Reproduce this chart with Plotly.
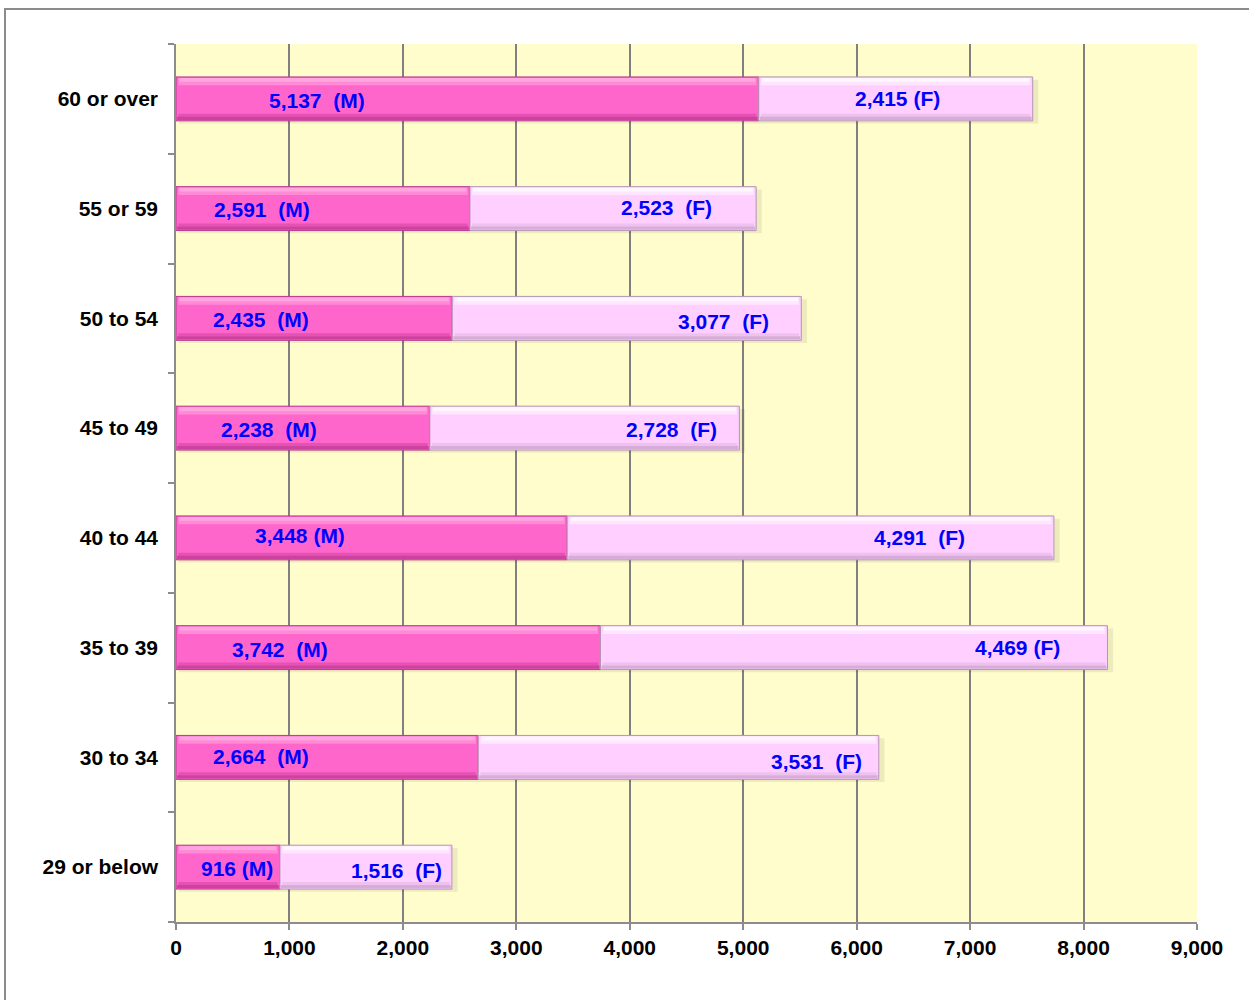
import plotly.graph_objects as go

categories = ["29 or below", "30 to 34", "35 to 39", "40 to 44",
              "45 to 49", "50 to 54", "55 or 59", "60 or over"]
male = [916, 2664, 3742, 3448, 2238, 2435, 2591, 5137]
female = [1516, 3531, 4469, 4291, 2728, 3077, 2523, 2415]
male_labels = ["916 (M)", "2,664  (M)", "3,742  (M)", "3,448 (M)",
               "2,238  (M)", "2,435  (M)", "2,591  (M)", "5,137  (M)"]
female_labels = ["1,516  (F)", "3,531  (F)", "4,469 (F)", "4,291  (F)",
                 "2,728  (F)", "3,077  (F)", "2,523  (F)", "2,415 (F)"]
x_ticks = list(range(0, 9001, 1000))

# label placement (layout only)
male_lab_x = [538, 749, 917, 1093, 820, 749, 758, 1243]
female_lab_x = [1948, 5642, 7422, 6558, 4372, 4822, 4328, 6356]
male_lab_dy = [-1, 1, -2, 2, -1, -1, -1, -2]
female_lab_dy = [-3, -4, 0, 0, -1, -3, 1, 0]

totals = [m + f for m, f in zip(male, female)]

fig = go.Figure()

W = 0.40
OFF = -W / 2
FONT = "Liberation Sans, Arial"
FS = 21

def add_bar(x, base, color, offset, width, line=None):
    fig.add_trace(go.Bar(
        y=categories, x=x, base=base, orientation="h",
        offset=offset, width=width,
        marker=dict(color=color, line=line or dict(width=0)),
        hoverinfo="skip", showlegend=False))

# soft shadow
add_bar([t + 25 for t in totals], [25] * 8, "rgba(0,0,0,0.07)", OFF - 0.025, W)
# main bars
add_bar(male, [0] * 8, "#FF66CC", OFF, W, dict(color="#B83890", width=1))
add_bar(female, male, "#FFCFFF", OFF, W, dict(color="#B496B4", width=1))
# bevel highlights (top) and shading (bottom)
add_bar([m - 40 for m in male], [20] * 8, "#FF8AD6", OFF + W - 0.075, 0.065)
add_bar([m - 60 for m in male], [30] * 8, "#FFA6E0", OFF + W - 0.045, 0.035)
add_bar([f - 40 for f in female], [m + 20 for m in male], "#FFE6FF", OFF + W - 0.075, 0.065)
add_bar([f - 60 for f in female], [m + 30 for m in male], "#FFF6FF", OFF + W - 0.045, 0.035)
add_bar([m - 40 for m in male], [20] * 8, "#E652B4", OFF + 0.035, 0.03)
add_bar([m - 20 for m in male], [10] * 8, "#CC429E", OFF + 0.008, 0.03)
add_bar([f - 40 for f in female], [m + 20 for m in male], "#EEC2EE", OFF + 0.035, 0.03)
add_bar([f - 20 for f in female], [m + 10 for m in male], "#D8ACD8", OFF + 0.008, 0.03)

annotations = []
for i, c in enumerate(categories):
    annotations.append(dict(x=male_lab_x[i], y=c, text=male_labels[i].replace("  ", "&nbsp; "),
                            showarrow=False, yshift=male_lab_dy[i],
                            font=dict(family=FONT, size=FS, color="#0000FF", weight="bold")))
    annotations.append(dict(x=female_lab_x[i], y=c, text=female_labels[i].replace("  ", "&nbsp; "),
                            showarrow=False, yshift=female_lab_dy[i],
                            font=dict(family=FONT, size=FS, color="#0000FF", weight="bold")))

fig.update_layout(
    width=1249, height=1000,
    margin=dict(l=176, r=52, t=44, b=78),
    paper_bgcolor="white", plot_bgcolor="#FFFDCC",
    barmode="overlay", bargap=0.6,
    font=dict(family=FONT, color="black"),
    xaxis=dict(range=[0, 9000], tickvals=x_ticks,
               ticktext=[f"{v:,}" for v in x_ticks],
               showgrid=True, gridcolor="#808080", gridwidth=1.5,
               zeroline=False, showline=True, linecolor="#8C8C8C", linewidth=1.5,
               ticks="outside", ticklen=6, tickcolor="#8C8C8C", tickwidth=1.5,
               tickfont=dict(size=FS, weight="bold", color="black"),
               ticklabelstandoff=0, fixedrange=True),
    yaxis=dict(categoryorder="array", categoryarray=categories,
               range=[-0.5, 7.5], showgrid=False, zeroline=False,
               showline=True, linecolor="#8C8C8C", linewidth=1.5,
               ticks="outside", tickson="boundaries", ticklen=6,
               tickcolor="#8C8C8C", tickwidth=1.5,
               tickfont=dict(size=FS, weight="bold", color="black"),
               ticklabelstandoff=12, fixedrange=True),
    annotations=annotations,
    shapes=[dict(type="rect", xref="paper", yref="paper",
                 x0=(5 - 176) / 1021, x1=1.2, y0=-0.2, y1=(922 - 9) / 878,
                 line=dict(color="#8C8C8C", width=2), fillcolor="rgba(0,0,0,0)",
                 layer="below")],
)

fig.write_html("out.html", config={"displayModeBar": False},
               post_script="document.body.style.margin='0';document.body.style.overflow='hidden';")
